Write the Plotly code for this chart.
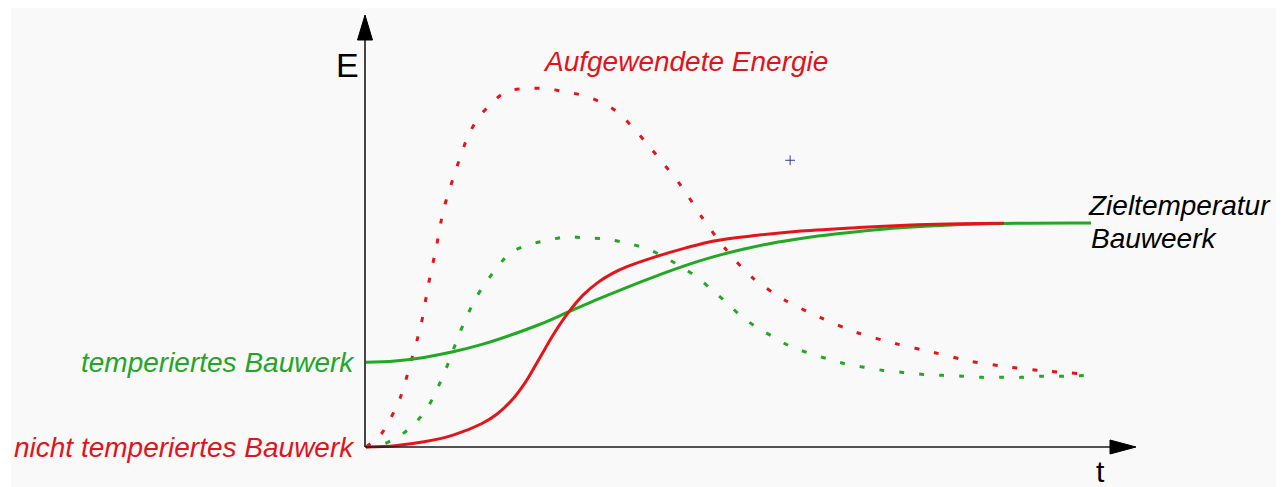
import plotly.graph_objects as go

# ---------------- data ----------------
# time axis in relative units 0..100, energy/temperature in units where target level = 100
red_solid_t = [0, 4, 8, 12, 16, 18, 20, 22, 24, 26, 28, 30, 32, 34, 36, 40, 44, 48, 54, 60, 68, 76, 82, 88]
red_solid_E = [0, 0.6, 2.3, 5.3, 10.5, 14.5, 20.5, 29, 40, 51, 60.4, 68, 73.5, 77.5, 80.5, 85, 88.8, 92,
               94.5, 96.4, 98, 99.2, 99.7, 99.9]

green_solid_t = [0, 4, 8, 12, 16, 20, 24, 28, 32, 36, 40, 44, 48, 52, 56, 60, 65, 70, 76, 82, 90, 100]
green_solid_E = [37.8, 38.4, 40, 42.5, 45.8, 50, 54.8, 60.4, 66, 71.3, 76.3, 81, 85, 88.3, 91, 93.1,
                 95.2, 96.9, 98.3, 99.3, 99.9, 100]

red_dot_t = [0, 2.1, 4.7, 6.2, 7.6, 8.6, 9.7, 10.7, 12.3, 14.1, 15.5, 17.2, 19.3, 22, 24.8, 27.3,
             30, 32.5, 34.8, 36.7, 38.5, 40.2, 43.5, 46.5, 49.7, 53.3, 57.9, 62.7, 67.7, 73,
             78.3, 83.5, 88.9, 94.3, 100]
red_dot_E = [0, 5.8, 21.8, 38.2, 54.7, 72.4, 89.3, 106, 122.7, 139, 147, 153, 158.7, 160, 160, 158.7,
             156.9, 153.8, 149.3, 143, 136.4, 129.8, 116.4, 101.8, 88, 75.6, 65.3, 57.8, 51.1, 46.2,
             42.2, 38.2, 35.6, 33.8, 32.4]

green_dot_t = [0, 2.4, 4.8, 6.9, 8.6, 9.8, 10.9, 11.9, 12.9, 13.9, 15.1, 16.5, 19.9, 22.4, 25.1, 27.7,
               30.5, 33.1, 35.9, 38.4, 40.9, 43.2, 45.6, 47.5, 49.6, 51.5, 53.7, 56.1, 58.3, 60.8,
               63.4, 65.9, 68.7, 71.3, 74.1, 76.9, 79.5, 82.3, 85, 87.7, 90.4, 93.1, 95.7, 100]
green_dot_E = [0, 1.3, 5.3, 11.1, 18.2, 25.8, 33.8, 42.2, 50.7, 58.2, 66.2, 73.3, 86.7, 90.2, 92.4, 93.8,
               93.3, 92.9, 91.1, 88.9, 85.3, 80.9, 76, 70.7, 64.9, 59.1, 53.8, 49.3, 45.3, 42.2,
               39.6, 37.3, 35.6, 34.2, 33.3, 32.4, 32, 31.6, 31.1, 31.1, 31.1, 31.6, 31.6, 32]

marker_t = [58.5]
marker_E = [128]

labels = {
    "energy": "Aufgewendete Energie",
    "tempered": "temperiertes Bauwerk",
    "untempered": "nicht temperiertes Bauwerk",
    "target1": "Zieltemperatur",
    "target2": "Bauweerk",
    "E": "E",
    "t": "t",
}

# ---------------- layout constants ----------------
PAGE_W, PAGE_H = 1284, 487
BODY = 8                   # default page body margin around the plot
W, H = PAGE_W - BODY, PAGE_H - BODY
OX, OY = 366, 447          # page-pixel position of origin
SX, SY = 7.25, 2.24        # pixels per unit


def tx(px):
    return (px - OX) / SX


def ey(py):
    return (OY - py) / SY


RED = "#e3151b"
GREEN = "#22a822"
RED_TXT = "#e0141c"
GREEN_TXT = "#25a525"
FONT = "Liberation Sans, Arial, sans-serif"

fig = go.Figure()

dot = "5px,15px"
fig.add_trace(go.Scatter(x=red_dot_t, y=red_dot_E, mode="lines",
                         line=dict(color=RED, width=3, dash=dot, shape="spline", smoothing=0.8),
                         hoverinfo="skip"))
fig.add_trace(go.Scatter(x=green_dot_t, y=green_dot_E, mode="lines",
                         line=dict(color=GREEN, width=3, dash=dot, shape="spline", smoothing=0.8),
                         hoverinfo="skip"))
fig.add_trace(go.Scatter(x=green_solid_t, y=green_solid_E, mode="lines",
                         line=dict(color=GREEN, width=3, shape="spline", smoothing=1.0),
                         hoverinfo="skip"))
fig.add_trace(go.Scatter(x=red_solid_t, y=red_solid_E, mode="lines",
                         line=dict(color=RED, width=3, shape="spline", smoothing=1.0),
                         hoverinfo="skip"))
fig.add_trace(go.Scatter(x=marker_t, y=marker_E, mode="markers",
                         marker=dict(symbol="cross-thin", size=7, line=dict(color="#3b3b9b", width=1)),
                         hoverinfo="skip"))

shapes = []
# gray background panel
shapes.append(dict(type="rect", xref="paper", yref="paper", x0=(11 - BODY) / W, x1=(1281 - BODY) / W,
                   y0=0, y1=1, fillcolor="#f9f9f9", line=dict(width=0), layer="below"))
# axes lines
AX = "#1a1a1a"
shapes.append(dict(type="line", x0=tx(365), x1=tx(365), y0=0, y1=ey(38), line=dict(color=AX, width=1.6)))
shapes.append(dict(type="line", x0=tx(365), x1=tx(1112), y0=0, y1=0, line=dict(color=AX, width=1.6)))
# arrow heads
shapes.append(dict(type="path",
                   path=f"M {tx(357.5)},{ey(40)} L {tx(365)},{ey(15)} L {tx(372.5)},{ey(40)} Z",
                   fillcolor="black", line=dict(color="black", width=1)))
shapes.append(dict(type="path",
                   path=f"M {tx(1110)},{ey(440)} L {tx(1136)},{ey(447)} L {tx(1110)},{ey(454)} Z",
                   fillcolor="black", line=dict(color="black", width=1)))

ann = []
ann.append(dict(x=tx(334), y=ey(65), text=labels["E"], showarrow=False, xanchor="left", yanchor="middle",
                font=dict(family=FONT, size=34, color="black")))
ann.append(dict(x=tx(1094), y=ey(471), text=labels["t"], showarrow=False, xanchor="left", yanchor="middle",
                font=dict(family=FONT, size=30, color="black")))
ann.append(dict(x=tx(541), y=ey(61), text=f"<i>{labels['energy']}</i>", showarrow=False,
                xanchor="left", yanchor="middle", font=dict(family=FONT, size=28, color=RED_TXT)))
ann.append(dict(x=tx(357), y=green_solid_E[0], text=f"<i>{labels['tempered']}</i>", showarrow=False,
                xanchor="right", yanchor="middle", font=dict(family=FONT, size=28, color=GREEN_TXT)))
ann.append(dict(x=tx(357), y=red_solid_E[0], text=f"<i>{labels['untempered']}</i>", showarrow=False,
                xanchor="right", yanchor="middle", font=dict(family=FONT, size=28, color=RED_TXT)))
ann.append(dict(x=tx(1086), y=ey(205), text=f"<i>{labels['target1']}</i>", showarrow=False,
                xanchor="left", yanchor="middle", font=dict(family=FONT, size=28, color="black")))
ann.append(dict(x=tx(1089), y=ey(238), text=f"<i>{labels['target2']}</i>", showarrow=False,
                xanchor="left", yanchor="middle", font=dict(family=FONT, size=28, color="black")))

fig.update_layout(
    width=W, height=H,
    margin=dict(l=0, r=0, t=0, b=0),
    paper_bgcolor="white",
    plot_bgcolor="rgba(0,0,0,0)",
    showlegend=False,
    xaxis=dict(range=[tx(BODY), tx(BODY + W)], visible=False, fixedrange=True),
    yaxis=dict(range=[ey(BODY + H), ey(BODY)], visible=False, fixedrange=True),
    shapes=shapes,
    annotations=ann,
)

fig.write_html("out.html", config={"displayModeBar": False})
